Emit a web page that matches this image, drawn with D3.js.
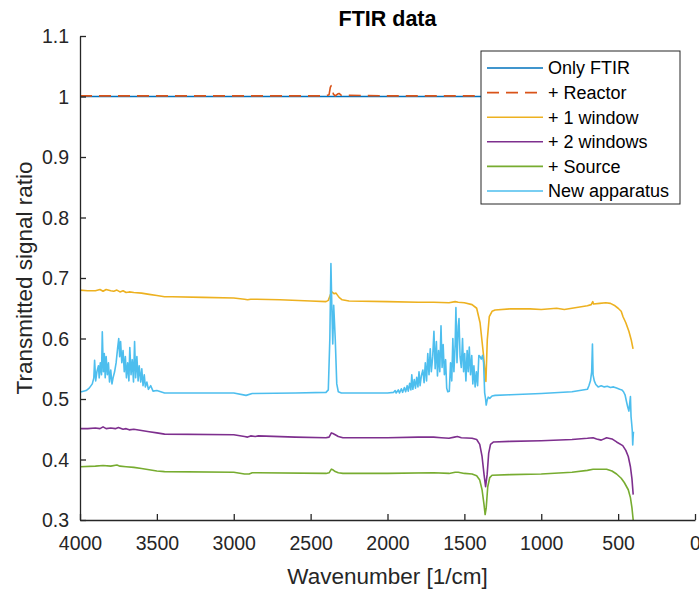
<!DOCTYPE html>
<html><head><meta charset="utf-8">
<script src="https://cdn.jsdelivr.net/npm/d3@7"></script>
<style>
body{margin:0;background:#fff;}
text{font-family:"Liberation Sans",Arial,Helvetica,sans-serif;}
</style></head>
<body><svg id="chart" width="699" height="590"></svg>
<script>
// ---- data ----
const seriesNames = ["Only FTIR","+ Reactor","+ 1 window","+ 2 windows","+ Source","New apparatus"];
const seriesColors = ["#0072BD","#D95319","#EDB120","#7E2F8E","#77AC30","#4DBEEE"];
const xTicks = [4000,3500,3000,2500,2000,1500,1000,500,0];
const yTicks = [0.3,0.4,0.5,0.6,0.7,0.8,0.9,1.0,1.1];

const onlyFTIR = [[4000,1.0],[3000,1.0],[2000,1.0],[1000,1.0],[400,1.0]];
const reactor = [[4000,1.001],[3000,1.001],[2400,1.001],[2380,1.003],[2372,1.015],[2366,1.018],[2360,1.014],[2352,1.004],[2340,1.001],[2325,1.004],[2315,1.005],[2300,1.002],[2000,1.001],[1000,1.001],[400,1.001]];
const window1 = [[4000,0.680],[3950,0.679],[3900,0.679],[3870,0.681],[3850,0.678],[3830,0.681],[3800,0.679],[3780,0.678],[3760,0.680],[3740,0.677],[3720,0.679],[3700,0.676],[3680,0.677],[3650,0.676],[3600,0.675],[3550,0.673],[3500,0.671],[3450,0.669],[3400,0.669],[3200,0.668],[3000,0.667],[2930,0.665],[2910,0.664],[2890,0.665],[2850,0.665],[2700,0.664],[2500,0.662],[2400,0.661],[2385,0.663],[2372,0.672],[2362,0.677],[2348,0.674],[2335,0.675],[2315,0.668],[2295,0.664],[2250,0.662],[2000,0.661],[1800,0.660],[1700,0.660],[1600,0.659],[1560,0.661],[1540,0.660],[1500,0.659],[1450,0.656],[1420,0.650],[1398,0.626],[1377,0.576],[1360,0.529],[1351,0.598],[1338,0.636],[1320,0.645],[1300,0.647],[1200,0.649],[1073,0.649],[1000,0.648],[900,0.650],[850,0.648],[800,0.650],[700,0.654],[675,0.656],[665,0.661],[660,0.657],[620,0.658],[580,0.659],[550,0.658],[520,0.654],[500,0.650],[480,0.645],[468,0.636],[450,0.626],[430,0.612],[415,0.598],[403,0.583]];
const window2 = [[4000,0.451],[3950,0.451],[3900,0.452],[3870,0.451],[3850,0.454],[3830,0.451],[3800,0.452],[3770,0.451],[3750,0.453],[3720,0.450],[3700,0.451],[3680,0.449],[3650,0.450],[3600,0.448],[3550,0.446],[3500,0.444],[3450,0.442],[3000,0.441],[2930,0.438],[2910,0.437],[2890,0.439],[2860,0.438],[2840,0.439],[2600,0.437],[2400,0.436],[2380,0.437],[2365,0.444],[2355,0.443],[2340,0.441],[2320,0.438],[2290,0.436],[2000,0.436],[1800,0.437],[1700,0.437],[1650,0.436],[1600,0.435],[1565,0.437],[1545,0.438],[1520,0.436],[1450,0.435],[1420,0.433],[1400,0.425],[1385,0.405],[1372,0.375],[1362,0.355],[1352,0.375],[1342,0.410],[1330,0.425],[1310,0.429],[1200,0.430],[1000,0.431],[800,0.433],[700,0.435],[663,0.436],[640,0.434],[610,0.432],[575,0.436],[540,0.434],[510,0.429],[470,0.423],[450,0.415],[434,0.405],[420,0.388],[410,0.368],[402,0.342]];
const source = [[4000,0.388],[3900,0.389],[3850,0.390],[3800,0.389],[3760,0.391],[3740,0.389],[3700,0.388],[3650,0.387],[3600,0.385],[3500,0.381],[3450,0.380],[3000,0.379],[2930,0.376],[2900,0.376],[2880,0.378],[2850,0.378],[2400,0.377],[2380,0.378],[2365,0.384],[2355,0.383],[2340,0.380],[2320,0.378],[2290,0.377],[2000,0.377],[1700,0.378],[1600,0.377],[1560,0.379],[1540,0.379],[1500,0.377],[1450,0.376],[1420,0.373],[1400,0.366],[1385,0.350],[1372,0.325],[1365,0.309],[1358,0.320],[1348,0.355],[1335,0.370],[1320,0.374],[1200,0.375],[1000,0.376],[800,0.379],[700,0.382],[663,0.384],[620,0.384],[575,0.384],[540,0.381],[510,0.376],[480,0.369],[460,0.362],[434,0.350],[420,0.337],[410,0.320],[402,0.300]];
const newApparatus = [[4000,0.512],[3990,0.512],[3960,0.514],[3940,0.518],[3920,0.525],[3910,0.535],[3905,0.564],[3898,0.530],[3890,0.545],[3880,0.555],[3875,0.535],[3868,0.560],[3860,0.540],[3855,0.611],[3848,0.545],[3842,0.575],[3836,0.535],[3830,0.570],[3822,0.540],[3815,0.560],[3808,0.528],[3800,0.548],[3792,0.525],[3785,0.535],[3775,0.545],[3765,0.560],[3755,0.585],[3748,0.600],[3742,0.570],[3736,0.595],[3728,0.560],[3720,0.580],[3712,0.545],[3705,0.570],[3698,0.535],[3690,0.560],[3682,0.530],[3676,0.585],[3668,0.540],[3660,0.565],[3652,0.528],[3645,0.595],[3638,0.535],[3630,0.570],[3622,0.530],[3615,0.555],[3605,0.528],[3598,0.550],[3590,0.522],[3582,0.540],[3575,0.520],[3565,0.528],[3555,0.516],[3540,0.522],[3525,0.513],[3500,0.514],[3450,0.510],[3400,0.510],[3000,0.510],[2920,0.506],[2880,0.509],[2600,0.510],[2400,0.511],[2385,0.515],[2375,0.600],[2368,0.724],[2362,0.650],[2356,0.591],[2350,0.655],[2340,0.600],[2330,0.525],[2320,0.512],[2300,0.510],[2100,0.510],[2000,0.510],[1960,0.511],[1950,0.514],[1944,0.510],[1930,0.515],[1922,0.510],[1910,0.517],[1902,0.511],[1890,0.519],[1882,0.512],[1872,0.522],[1865,0.513],[1856,0.526],[1848,0.515],[1842,0.540],[1835,0.516],[1826,0.532],[1818,0.518],[1810,0.536],[1802,0.520],[1795,0.545],[1788,0.522],[1780,0.538],[1770,0.548],[1762,0.527],[1754,0.560],[1746,0.530],[1738,0.575],[1730,0.540],[1722,0.583],[1715,0.545],[1706,0.570],[1698,0.612],[1690,0.550],[1682,0.595],[1675,0.538],[1668,0.580],[1660,0.545],[1652,0.621],[1645,0.552],[1638,0.590],[1630,0.540],[1622,0.565],[1615,0.518],[1608,0.512],[1598,0.513],[1590,0.560],[1582,0.530],[1575,0.600],[1568,0.545],[1560,0.590],[1555,0.651],[1548,0.560],[1540,0.620],[1535,0.633],[1528,0.570],[1520,0.552],[1512,0.600],[1505,0.545],[1498,0.575],[1490,0.530],[1482,0.580],[1475,0.545],[1468,0.586],[1460,0.540],[1452,0.572],[1445,0.525],[1438,0.555],[1430,0.520],[1422,0.545],[1414,0.522],[1406,0.572],[1398,0.570],[1390,0.566],[1382,0.572],[1375,0.560],[1368,0.510],[1362,0.500],[1358,0.490],[1352,0.498],[1345,0.503],[1335,0.501],[1320,0.505],[1300,0.506],[1200,0.507],[1000,0.509],[800,0.512],[700,0.516],[690,0.522],[680,0.530],[672,0.545],[667,0.591],[663,0.540],[655,0.530],[645,0.524],[630,0.520],[610,0.522],[590,0.520],[570,0.521],[550,0.519],[530,0.520],[510,0.518],[490,0.516],[475,0.515],[465,0.512],[455,0.507],[445,0.495],[438,0.487],[430,0.480],[425,0.492],[420,0.504],[416,0.471],[412,0.460],[408,0.448],[405,0.424],[402,0.440],[400,0.446]];

const allSeries = [onlyFTIR, reactor, window1, window2, source, newApparatus];

// ---- layout ----
const svg = d3.select("#chart");
const L = 80, R = 695, T = 36, B = 520;
const x = d3.scaleLinear().domain([4000,0]).range([L,R]);
const y = d3.scaleLinear().domain([0.3,1.1]).range([B,T]);
const axisColor = "#262626";

// lines
const line = d3.line().x(d=>x(d[0])).y(d=>y(d[1]));
allSeries.forEach((s,i)=>{
  svg.append("path").datum(s)
    .attr("d", line)
    .attr("fill","none")
    .attr("stroke", seriesColors[i])
    .attr("stroke-width", 1.6)
    .attr("stroke-linejoin","round")
    .attr("stroke-dasharray", i===1 ? "12,7" : null);
});

// axes
const fmt = d => (Math.round(d*10)/10).toString();
const yAxis = d3.axisLeft(y).tickValues(yTicks).tickFormat(fmt).tickSizeInner(-6).tickSizeOuter(0).tickPadding(11);
const xAxis = d3.axisBottom(x).tickValues(xTicks).tickFormat(d3.format("d")).tickSizeInner(-6).tickSizeOuter(0);
const gy = svg.append("g").attr("transform",`translate(${L},0)`).call(yAxis);
const gx = svg.append("g").attr("transform",`translate(0,${B})`).call(xAxis);
[gx,gy].forEach(g=>{
  g.select(".domain").attr("stroke",axisColor).attr("stroke-width",1.3);
  g.selectAll(".tick line").attr("stroke",axisColor).attr("stroke-width",1.3);
  g.selectAll(".tick text").attr("fill",axisColor).style("font-size","19.5px").style("font-family","'Liberation Sans',Arial,sans-serif");
});
gy.selectAll(".tick text").attr("dy","0.35em");
gx.selectAll(".tick text").attr("y",30).attr("dy","0");

// title and labels
svg.append("text").attr("x",(L+R)/2).attr("y",26).attr("text-anchor","middle")
  .style("font-size","21.5px").style("font-weight","bold").attr("fill","#000").text("FTIR data");
svg.append("text").attr("x",(L+R)/2).attr("y",584).attr("text-anchor","middle")
  .style("font-size","22.5px").attr("fill",axisColor).text("Wavenumber [1/cm]");
svg.append("text").attr("transform",`translate(32,${(T+B)/2}) rotate(-90)`).attr("text-anchor","middle")
  .style("font-size","22.5px").attr("fill",axisColor).text("Transmitted signal ratio");

// legend
const lg = svg.append("g");
lg.append("rect").attr("x",481).attr("y",51).attr("width",199).attr("height",153)
  .attr("fill","#fff").attr("stroke",axisColor).attr("stroke-width",1);
seriesNames.forEach((n,i)=>{
  const yy = 68 + i*24.6;
  lg.append("line").attr("x1",487).attr("x2",543).attr("y1",yy).attr("y2",yy)
    .attr("stroke",seriesColors[i]).attr("stroke-width",1.6)
    .attr("stroke-dasharray", i===1 ? "12,7" : null);
  lg.append("text").attr("x",548).attr("y",yy).attr("dy","0.35em")
    .style("font-size","18px").attr("fill","#000").text(n);
});
</script></body></html>
